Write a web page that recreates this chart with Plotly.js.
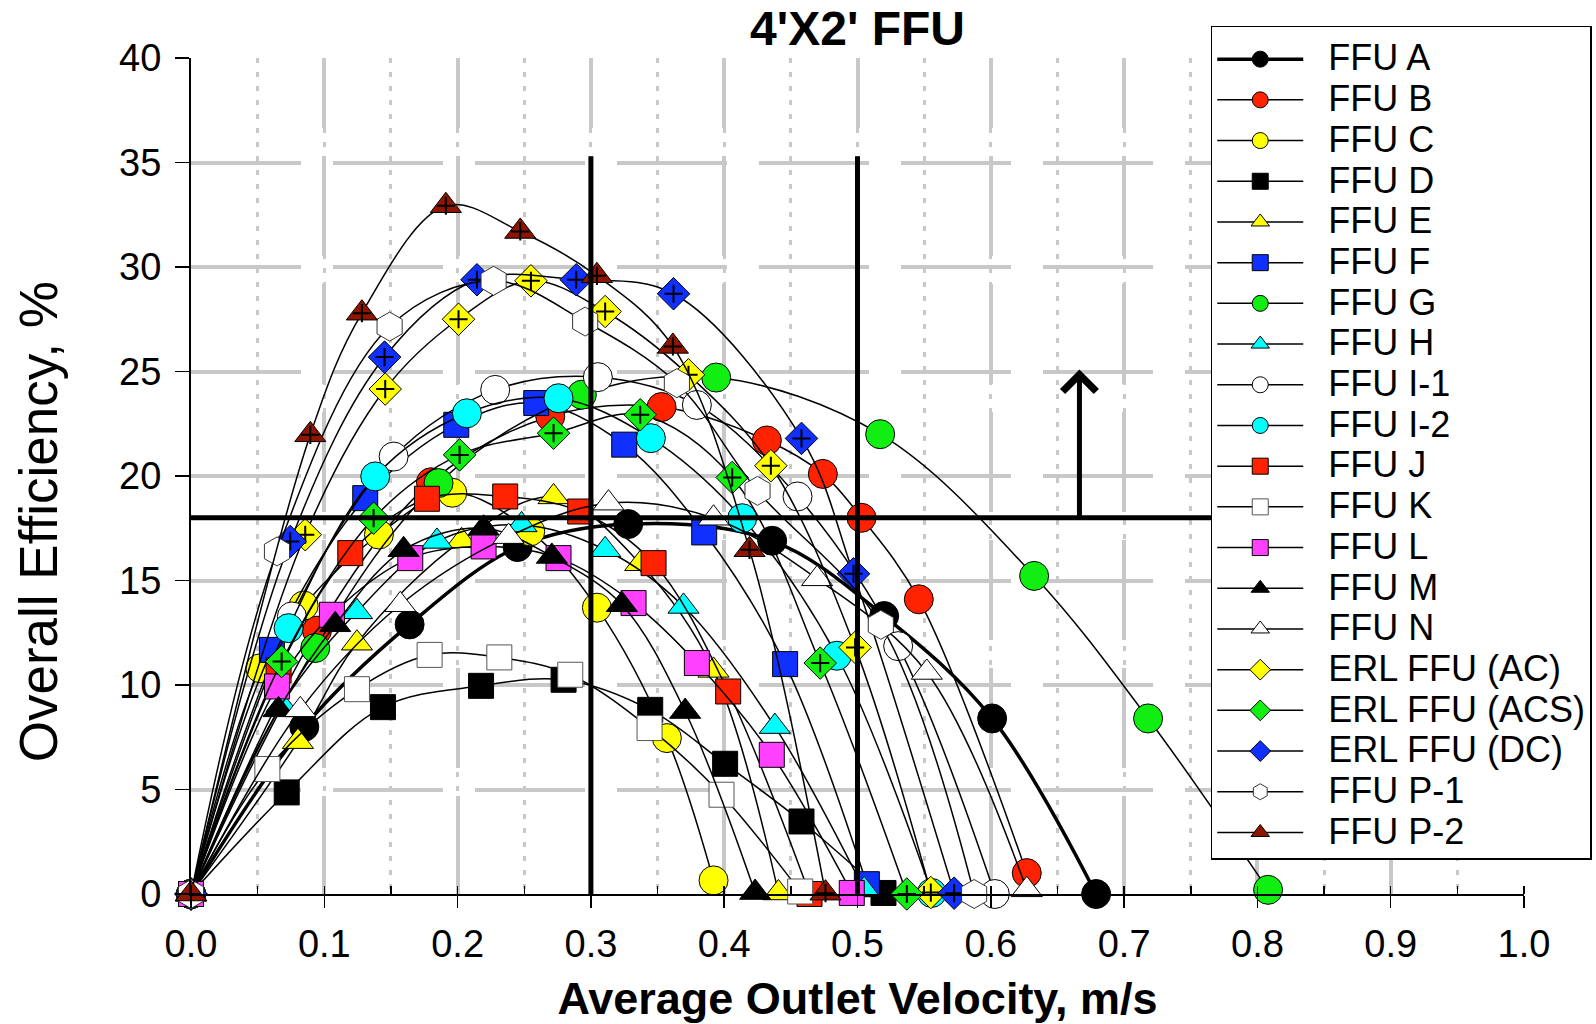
<!DOCTYPE html>
<html>
<head>
<meta charset="utf-8">
<script src="https://cdn.plot.ly/plotly-3.0.1.min.js"></script>
<style>
html,body{margin:0;padding:0;background:#ffffff;}
#chart{width:1596px;height:1024px;}
</style>
</head>
<body>
<div id="chart"></div>
<script>
// ---- Data ----
const seriesNames = ["FFU A","FFU B","FFU C","FFU D","FFU E","FFU F","FFU G","FFU H","FFU I-1","FFU I-2",
  "FFU J","FFU K","FFU L","FFU M","FFU N","ERL FFU (AC)","ERL FFU (ACS)","ERL FFU (DC)","FFU P-1","FFU P-2"];

const xA = [0, 0.085, 0.164, 0.245, 0.328, 0.436, 0.520, 0.601, 0.679];
const yA = [0, 8.0, 12.9, 16.6, 17.7, 16.9, 13.3, 8.4, 0];
const xB = [0, 0.0945, 0.180, 0.2695, 0.353, 0.432, 0.474, 0.503, 0.546, 0.627];
const yB = [0, 12.6, 19.7, 22.85, 23.3, 21.7, 20.1, 18.0, 14.1, 1.0];
const xC = [0, 0.052, 0.0845, 0.141, 0.196, 0.2545, 0.3045, 0.357, 0.392];
const yC = [0, 10.8, 13.8, 17.2, 19.2, 17.35, 13.7, 7.46, 0.65];
const xD = [0, 0.0718, 0.144, 0.2176, 0.2795, 0.3445, 0.4007, 0.458, 0.5195];
const yD = [0, 4.86, 8.94, 9.96, 10.25, 8.81, 6.23, 3.47, 0.05];
const xE = [0, 0.0802, 0.1245, 0.203, 0.272, 0.337, 0.392, 0.4407];
const yE = [0, 7.29, 12.0, 16.9, 19.0, 15.8, 10.7, 0.05];
const xF = [0, 0.0607, 0.1307, 0.199, 0.259, 0.325, 0.385, 0.4457, 0.507];
const yF = [0, 11.68, 18.94, 22.45, 23.49, 21.5, 17.3, 11.0, 0.47];
const xG = [0, 0.0932, 0.1857, 0.2932, 0.394, 0.517, 0.6325, 0.718, 0.808];
const yG = [0, 11.77, 19.66, 23.89, 24.71, 22.0, 15.22, 8.4, 0.2];
const xH = [0, 0.068, 0.1245, 0.1845, 0.248, 0.3107, 0.3695, 0.438, 0.505];
const yH = [0, 9.05, 13.5, 16.87, 17.66, 16.47, 13.76, 8.01, 0.2];
const xI1 = [0, 0.0757, 0.152, 0.2282, 0.3052, 0.3795, 0.455, 0.5305, 0.603];
const yI1 = [0, 13.28, 20.93, 24.12, 24.73, 23.4, 19.02, 11.86, 0];
const xI2 = [0, 0.0732, 0.1382, 0.207, 0.2757, 0.345, 0.4135, 0.4845, 0.5557];
const yI2 = [0, 12.72, 19.98, 23.0, 23.72, 21.81, 17.98, 11.4, 0.05];
const xJ = [0, 0.0657, 0.1195, 0.177, 0.2357, 0.292, 0.347, 0.403, 0.464];
const yJ = [0, 10.7, 16.31, 18.91, 19.02, 18.3, 15.83, 9.69, 0];
const xK = [0, 0.0573, 0.1245, 0.179, 0.2313, 0.2845, 0.344, 0.398, 0.457];
const yK = [0, 5.98, 9.8, 11.44, 11.32, 10.49, 7.94, 4.75, 0.12];
const xL = [0, 0.0645, 0.1057, 0.1645, 0.2195, 0.2757, 0.332, 0.3795, 0.4357, 0.4957];
const yL = [0, 9.93, 13.36, 16.07, 16.63, 16.07, 13.92, 11.05, 6.66, 0.05];
const xM = [0, 0.0657, 0.1082, 0.1595, 0.2195, 0.2707, 0.3232, 0.3707, 0.4232];
const yM = [0, 8.81, 12.88, 16.47, 17.5, 16.15, 13.84, 8.73, 0.07];
const xN = [0, 0.082, 0.157, 0.2382, 0.3132, 0.392, 0.4697, 0.552, 0.627];
const yN = [0, 8.81, 13.84, 17.1, 18.7, 17.98, 15.08, 10.6, 0.2];
const xAC = [0, 0.0857, 0.1457, 0.2007, 0.255, 0.3107, 0.3732, 0.435, 0.4982, 0.555];
const yAC = [0, 17.19, 24.16, 27.5, 29.34, 27.87, 24.84, 20.49, 11.8, 0.07];
const xACS = [0, 0.068, 0.137, 0.2015, 0.272, 0.337, 0.406, 0.472, 0.537];
const yACS = [0, 11.12, 17.98, 21.01, 22.05, 22.93, 19.93, 11.05, 0];
const xDC = [0, 0.0745, 0.1452, 0.2145, 0.289, 0.362, 0.458, 0.497, 0.5725];
const yDC = [0, 16.87, 25.69, 29.39, 29.39, 28.72, 21.8, 15.32, 0.04];
const xP1 = [0, 0.0645, 0.149, 0.227, 0.2957, 0.3645, 0.425, 0.5175, 0.5875];
const yP1 = [0, 16.39, 27.15, 29.34, 27.39, 24.44, 19.29, 12.88, 0];
const xP2 = [0, 0.0895, 0.1282, 0.1912, 0.247, 0.3045, 0.3615, 0.419, 0.476];
const yP2 = [0, 21.97, 27.79, 32.93, 31.7, 29.58, 26.2, 16.47, 0.04];

// Reference guides
const guideVelocities = [0.3, 0.5];
const guideTop = 35.3;
const guideEfficiency = 18;
const arrowVelocity = 0.6665;
const arrowTop = 25.1;

const tickLabelsX = ["0.0","0.1","0.2","0.3","0.4","0.5","0.6","0.7","0.8","0.9","1.0"];
const tickValsX = [0,0.1,0.2,0.3,0.4,0.5,0.6,0.7,0.8,0.9,1.0];

// ---- Styling ----
const xs = [xA,xB,xC,xD,xE,xF,xG,xH,xI1,xI2,xJ,xK,xL,xM,xN,xAC,xACS,xDC,xP1,xP2];
const ys = [yA,yB,yC,yD,yE,yF,yG,yH,yI1,yI2,yJ,yK,yL,yM,yN,yAC,yACS,yDC,yP1,yP2];
const RED='#ff2200', YEL='#ffff00', BLU='#1030ff', GRN='#11ee11', CYN='#00ffff', MAG='#ff40ff', DRED='#8e1500';
const styles = [
  {sym:'circle', col:'#000000', size:29},
  {sym:'circle', col:RED, size:29},
  {sym:'circle', col:YEL, size:29},
  {sym:'square', col:'#000000', size:25},
  {sym:'triangle-up', col:YEL, size:27},
  {sym:'square', col:BLU, size:25},
  {sym:'circle', col:GRN, size:29},
  {sym:'triangle-up', col:CYN, size:27},
  {sym:'circle', col:'#ffffff', size:29},
  {sym:'circle', col:CYN, size:29},
  {sym:'square', col:RED, size:25},
  {sym:'square', col:'#ffffff', size:25, lc:'#555555'},
  {sym:'square', col:MAG, size:25},
  {sym:'triangle-up', col:'#000000', size:27},
  {sym:'triangle-up', col:'#ffffff', size:27},
  {sym:'diamond', col:YEL, size:25, cross:true},
  {sym:'diamond', col:GRN, size:25, cross:true},
  {sym:'diamond', col:BLU, size:25, cross:true},
  {sym:'hexagon', col:'#ffffff', size:29, lc:'#333333'},
  {sym:'triangle-up', col:DRED, size:27, cross:true}
];

const traces = [];
seriesNames.forEach((nm, i) => {
  const st = styles[i];
  traces.push({
    type:'scatter', mode:'lines+markers', name:'<span style="font-size:36px">\u00a0\u00a0'+nm+'</span>',
    x: xs[i], y: ys[i], cliponaxis:false,
    line:{color:'#000000', width: i===0 ? 3.5 : 1.5, shape:'spline', smoothing:1},
    marker:{symbol:st.sym, size:st.size, color:st.col, line:{color: st.lc || '#000000', width:1}},
    hoverinfo:'x+y'
  });
  if (st.cross) {
    traces.push({
      type:'scatter', mode:'markers', showlegend:false, hoverinfo:'skip', cliponaxis:false,
      x: xs[i], y: ys[i],
      marker:{symbol:'cross-thin', size:13, color:'#000000', line:{color:'#000000', width:2}}
    });
  }
});

const FONT = 'Liberation Sans, Arial, Helvetica, sans-serif';
const gridV = '70px,28px,100px,28px,100px,28px,100px,28px,100px,28px,100px,28px,100px,28px';

const shapes = [];
guideVelocities.forEach(v => {
  shapes.push({type:'line', xref:'x', yref:'y', x0:v, x1:v, y0:0, y1:guideTop, line:{color:'#000000', width:5}});
});
shapes.push({type:'line', xref:'x', yref:'y', x0:0, x1:1, y0:guideEfficiency, y1:guideEfficiency, line:{color:'#000000', width:5}});

const layout = {
  width:1596, height:1024,
  paper_bgcolor:'#ffffff', plot_bgcolor:'#ffffff',
  margin:{l:191, r:72, t:58, b:130, autoexpand:false},
  font:{family:FONT, color:'#000000'},
  title:{text:"4'X2' FFU", font:{family:FONT, size:48, weight:'bold', color:'#000000'}, x:0.5, xref:'paper', xanchor:'center', y:0.9727, yref:'container', yanchor:'middle'},
  showlegend:true,
  legend:{x:0.765, xref:'paper', xanchor:'left', y:1.0385, yref:'paper', yanchor:'top', maxheight:1000,
    bgcolor:'#ffffff', bordercolor:'#000000', borderwidth:1.5,
    title:{text:'\u00a0', font:{family:FONT, size:5, color:'#ffffff'}},
    font:{family:FONT, size:29, color:'#000000'}, itemwidth:86, tracegroupgap:0, traceorder:'normal'},
  xaxis:{range:[0,1], tickvals:tickValsX, ticktext:tickLabelsX, ticks:'outside', ticklen:12, tickwidth:1.5, tickcolor:'#000000',
    showline:true, linecolor:'#000000', linewidth:2, zeroline:false,
    showgrid:true, gridcolor:'#c8c8c8', gridwidth:4, griddash:gridV,
    tickfont:{family:FONT, size:38, color:'#000000'}, ticklabelstandoff:3,
    minor:{dtick:0.05, ticks:'inside', ticklen:8, tickwidth:1.5, tickcolor:'#000000', showgrid:true, gridcolor:'#c8c8c8', gridwidth:3, griddash:'5px,9px'},
    title:{text:'Average Outlet Velocity, m/s', font:{family:FONT, size:45, weight:'bold', color:'#000000'}, standoff:22}},
  xaxis2:{range:[0,1], overlaying:'x', anchor:'y', side:'top', showline:true, linecolor:'#000000', linewidth:2,
    showgrid:false, zeroline:false, showticklabels:false, ticks:'', dtick:0.1,
    minor:{dtick:0.05, ticks:'inside', ticklen:8, tickwidth:1.5, tickcolor:'#000000', showgrid:false}},
  yaxis:{range:[0,40], dtick:5, ticks:'outside', ticklen:14, tickwidth:1.5, tickcolor:'#000000',
    showline:true, linecolor:'#000000', linewidth:2, zeroline:false,
    showgrid:true, gridcolor:'#c8c8c8', gridwidth:4, griddash:'110px,32px',
    tickfont:{family:FONT, size:38, color:'#000000'}, ticklabelstandoff:6},
  shapes:shapes,
  annotations:[
    {x:arrowVelocity, y:arrowTop, ax:arrowVelocity, ay:guideEfficiency, xref:'x', yref:'y', axref:'x', ayref:'y',
     text:'', showarrow:true, arrowhead:4, arrowsize:1.3, arrowwidth:5, arrowcolor:'#000000', standoff:0},
    {text:'Overall Efficiency, %', xref:'paper', yref:'paper', x:-0.1148, y:0.4458, xanchor:'center', yanchor:'middle',
     textangle:-90, showarrow:false, font:{family:FONT, size:53, color:'#000000'}}
  ]
};

Plotly.newPlot('chart', traces, layout, {staticPlot:true});
</script>
</body>
</html>
